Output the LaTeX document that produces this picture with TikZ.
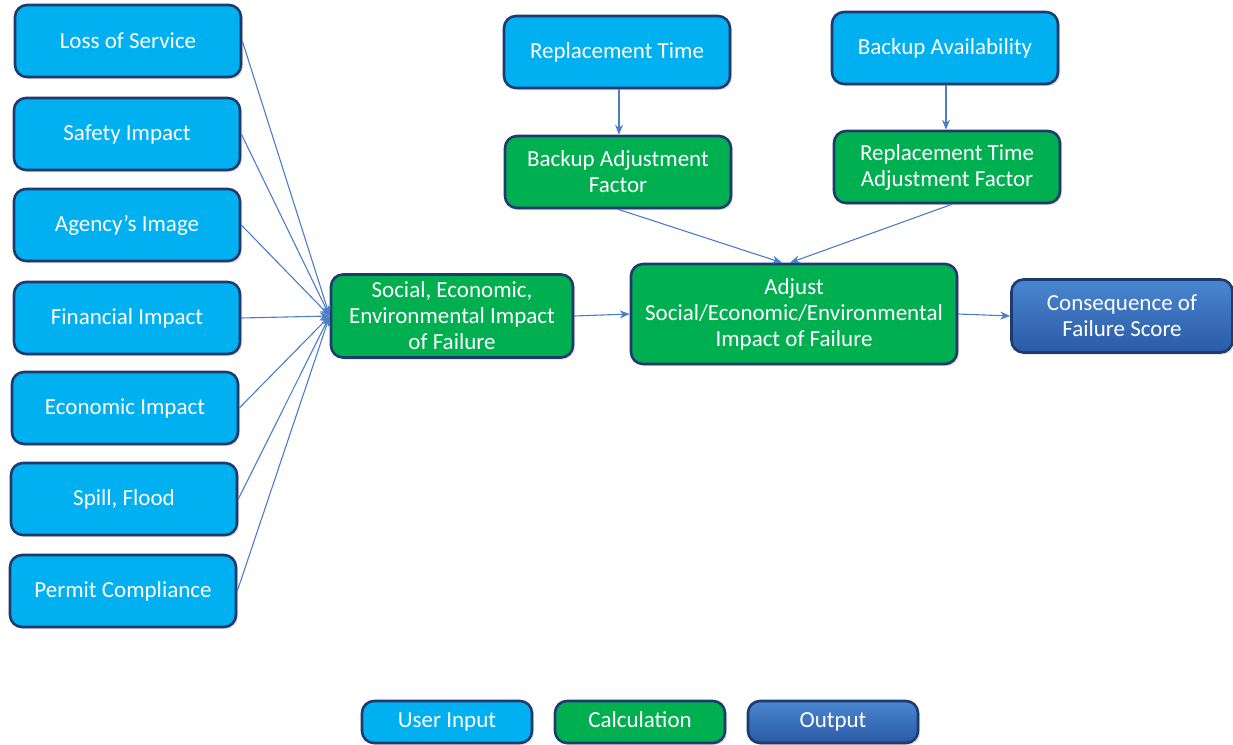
\documentclass[tikz,border=0pt]{standalone}
\usepackage{fontspec}
\setmainfont{Carlito}
\usetikzlibrary{arrows.meta,shadows}
\definecolor{inblue}{HTML}{00B0F0}
\definecolor{calcgreen}{HTML}{00B050}
\definecolor{outtop}{HTML}{4A86D0}
\definecolor{outbot}{HTML}{2A5AA6}
\definecolor{boxline}{HTML}{1F3A6E}
\definecolor{link}{HTML}{4A7EC7}
\begin{document}
\begin{tikzpicture}[x=1pt, y=-1pt,
    box/.style={rectangle, rounded corners=12pt, draw=boxline, line width=2.6pt,
      text=white, align=center, font=\fontsize{23}{26}\selectfont,
      inner sep=0pt, drop shadow={opacity=0.25, shadow xshift=2pt, shadow yshift=-2pt}},
    userin/.style={box, fill=inblue, minimum width=226pt, minimum height=72pt},
    calc/.style={box, fill=calcgreen, minimum width=226pt, minimum height=72pt},
    output/.style={box, top color=outtop, bottom color=outbot, minimum width=221pt, minimum height=73pt},
    legend/.style={minimum width=170pt, minimum height=42pt, text height=16pt, text depth=5pt},
    link/.style={draw=link, line width=1.1pt, -{Stealth[length=10pt,width=8pt]}}]
  \useasboundingbox (0,0) rectangle (1233,744);
  % inputs on the left
  \node[userin] (loss) at (128,41) {Loss of Service};
  \node[userin] (safety) at (127,134) {Safety Impact};
  \node[userin] (image) at (127,225) {Agency's Image};
  \node[userin] (financial) at (127,318) {Financial Impact};
  \node[userin] (economic) at (125,408) {Economic Impact};
  \node[userin] (spill) at (124,499) {Spill, Flood};
  \node[userin] (permit) at (123,591) {Permit Compliance};
  % inputs on top
  \node[userin] (reptime) at (617,52) {Replacement Time};
  \node[userin] (backup) at (945,48) {Backup Availability};
  % calculations
  \node[calc] (backupadj) at (618,172) {Backup Adjustment\\Factor};
  \node[calc] (reptimeadj) at (947,167) {Replacement Time\\Adjustment Factor};
  \node[calc, minimum width=242pt, minimum height=83pt] (impact) at (452,316)
    {Social, Economic,\\Environmental Impact\\of Failure};
  \node[calc, minimum width=326pt, minimum height=100pt] (adjust) at (794,314)
    {Adjust\\Social/Economic/Environmental\\Impact of Failure};
  % output
  \node[output] (score) at (1122,316) {Consequence of\\Failure Score};
  % legend
  \node[userin, legend] (keyin) at (447,722) {User Input};
  \node[calc, legend] (keycalc) at (640,722) {Calculation};
  \node[output, legend] (keyout) at (833,722) {Output};

  \foreach \src in {loss,safety,image,financial,economic,spill,permit}
    \draw[link] (\src.east) -- (impact.west);
  \draw[link] ([xshift=2pt]reptime.south) -- ([xshift=1pt]backupadj.north);
  \draw[link] ([xshift=1pt]backup.south) -- ([xshift=-1pt]reptimeadj.north);
  \draw[link] (backupadj.south) -- ([xshift=-12pt]adjust.north);
  \draw[link] ([xshift=5pt]reptimeadj.south) -- ([xshift=-4pt]adjust.north);
  \draw[link] (impact.east) -- (adjust.west);
  \draw[link] (adjust.east) -- (score.west);
\end{tikzpicture}
\end{document}
